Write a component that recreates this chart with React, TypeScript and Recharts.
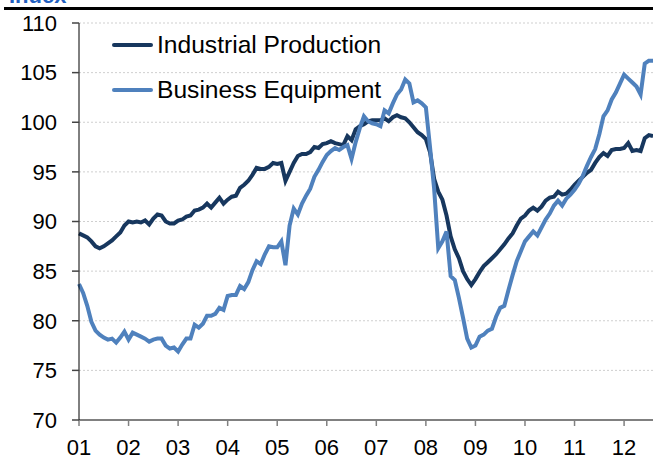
import React from 'react';
import { LineChart, Line, XAxis, YAxis, CartesianGrid } from 'recharts';

// monthly index values, Jan 2001 onwards
const industrialProduction = [
  88.8, 88.6, 88.4, 88.0, 87.5, 87.3, 87.5, 87.8, 88.1, 88.5, 88.9, 89.6,
  90.0, 89.9, 90.0, 89.9, 90.1, 89.7, 90.3, 90.7, 90.6, 90.0, 89.8, 89.8,
  90.1, 90.2, 90.5, 90.6, 91.1, 91.2, 91.4, 91.8, 91.4, 91.9, 92.4, 91.8,
  92.2, 92.5, 92.6, 93.4, 93.7, 94.1, 94.7, 95.4, 95.3, 95.3, 95.5, 95.9,
  95.8, 95.9, 94.1, 95.0, 95.9, 96.6, 96.8, 96.8, 97.0, 97.5, 97.4, 97.8,
  97.9, 98.1, 97.9, 97.8, 97.7, 98.6, 98.2, 99.3, 99.6, 99.8, 100.1, 100.2,
  100.2, 100.2, 100.4, 100.1, 100.5, 100.7, 100.5, 100.4, 100.0, 99.5, 99.0, 98.7,
  98.3, 97.0, 94.3, 93.0, 92.2, 90.6, 88.5, 87.2, 86.3, 85.0, 84.2, 83.6,
  84.2, 84.9, 85.5, 85.9, 86.3, 86.7, 87.2, 87.7, 88.3, 88.8, 89.6, 90.3,
  90.6, 91.1, 91.4, 91.1, 91.5, 92.1, 92.4, 92.5, 93.0, 92.7, 92.8, 93.2,
  93.7, 94.1, 94.5, 94.9, 95.2, 95.9, 96.5, 96.9, 96.6, 97.2, 97.3, 97.3,
  97.4, 97.9, 97.1, 97.2, 97.1, 98.4, 98.7, 98.6,
];

const businessEquipment = [
  83.7, 82.8, 81.5, 79.9, 79.0, 78.6, 78.3, 78.1, 78.2, 77.8, 78.3, 78.9,
  78.1, 78.8, 78.6, 78.4, 78.2, 77.9, 78.1, 78.2, 78.2, 77.5, 77.2, 77.3,
  76.9, 77.6, 78.2, 78.2, 79.6, 79.3, 79.7, 80.5, 80.5, 80.7, 81.3, 81.1,
  82.5, 82.6, 82.6, 83.5, 83.2, 83.9, 85.1, 86.0, 85.7, 86.7, 87.5, 87.4,
  87.4, 88.0, 85.6, 89.6, 91.3, 90.7, 91.8, 92.6, 93.3, 94.5, 95.2, 96.0,
  96.7, 97.1, 97.4, 97.2, 97.5, 97.7, 96.3, 98.0, 99.4, 100.6, 100.1, 99.9,
  99.8, 99.6, 101.2, 100.9, 101.9, 102.8, 103.3, 104.3, 103.9, 102.0, 102.2, 101.9,
  101.5, 97.5, 93.3, 87.3, 88.0, 89.0, 84.5, 84.1, 82.3, 80.3, 78.2, 77.3,
  77.5, 78.4, 78.6, 79.0, 79.2, 80.4, 81.3, 81.5, 83.1, 84.6, 86.0, 87.0,
  88.0, 88.5, 89.0, 88.6, 89.4, 90.2, 90.8, 91.6, 92.1, 91.6, 92.3, 92.7,
  93.2, 93.8, 94.6, 95.6, 96.5, 97.3, 98.8, 100.6, 101.2, 102.3, 103.0, 103.9,
  104.8, 104.4, 104.0, 103.6, 102.8, 105.9, 106.2, 106.2,
];

const yearLabels = ['01', '02', '03', '04', '05', '06', '07', '08', '09', '10', '11', '12'];
const yTicks = [70, 75, 80, 85, 90, 95, 100, 105, 110];

const data = industrialProduction.map((ip, i) => ({
  m: i,
  ip,
  be: businessEquipment[i],
}));

const xTicks = yearLabels.map((_, i) => i * 12);

const FONT = '"Liberation Sans", Arial, sans-serif';
const DARK = '#17375E';
const LIGHT = '#4F81BD';

const legendItems = [
  { label: 'Industrial Production', color: DARK, top: 45 },
  { label: 'Business Equipment', color: LIGHT, top: 90 },
];

export default function App() {
  return (
    <div
      style={{
        position: 'absolute',
        left: 0,
        top: 0,
        width: 653,
        height: 459,
        overflow: 'hidden',
        background: '#fff',
        fontFamily: FONT,
      }}
    >
      {/* title sits mostly above the frame, as in the source */}
      <div
        style={{
          position: 'absolute',
          left: 9,
          top: -15,
          fontSize: 22,
          lineHeight: '22px',
          fontWeight: 'bold',
          color: '#2260C0',
        }}
      >
        Index
      </div>
      <div style={{ position: 'absolute', left: 4, top: 7, width: 649, height: 3, background: '#000' }} />

      <LineChart
        width={653}
        height={459}
        data={data}
        margin={{ top: 23, right: 0, left: 0, bottom: 0 }}
      >
        <CartesianGrid vertical={false} stroke="#cfcfcf" strokeDasharray="2 2" />
        <XAxis
          type="number"
          dataKey="m"
          domain={[0, 139]}
          ticks={xTicks}
          tickFormatter={(v: number) => yearLabels[v / 12]}
          height={39}
          tickSize={6}
          tickMargin={13}
          axisLine={{ stroke: '#808080', strokeWidth: 2 }}
          tickLine={{ stroke: '#808080', strokeWidth: 1.5 }}
          tick={{ fill: '#000', fontSize: 22, fontFamily: FONT }}
          interval={0}
        />
        <YAxis
          domain={[70, 110]}
          ticks={yTicks}
          width={79}
          tickSize={7}
          tickMargin={15}
          axisLine={{ stroke: '#000', strokeWidth: 1 }}
          tickLine={{ stroke: '#444', strokeWidth: 1.5 }}
          tick={{ fill: '#000', fontSize: 22, fontFamily: FONT }}
          interval={0}
        />
        <Line
          type="linear"
          dataKey="ip"
          stroke={DARK}
          strokeWidth={4}
          dot={false}
          isAnimationActive={false}
        />
        <Line
          type="linear"
          dataKey="be"
          stroke={LIGHT}
          strokeWidth={4}
          dot={false}
          isAnimationActive={false}
        />
      </LineChart>

      {legendItems.map((item) => (
        <div
          key={item.label}
          style={{
            position: 'absolute',
            left: 112,
            top: item.top - 15,
            height: 30,
            display: 'flex',
            alignItems: 'center',
            fontSize: 24.6,
            color: '#000',
            whiteSpace: 'nowrap',
          }}
        >
          <span style={{ display: 'inline-block', width: 41, height: 4, borderRadius: 2, background: item.color, marginRight: 4 }} />
          {item.label}
        </div>
      ))}
    </div>
  );
}
